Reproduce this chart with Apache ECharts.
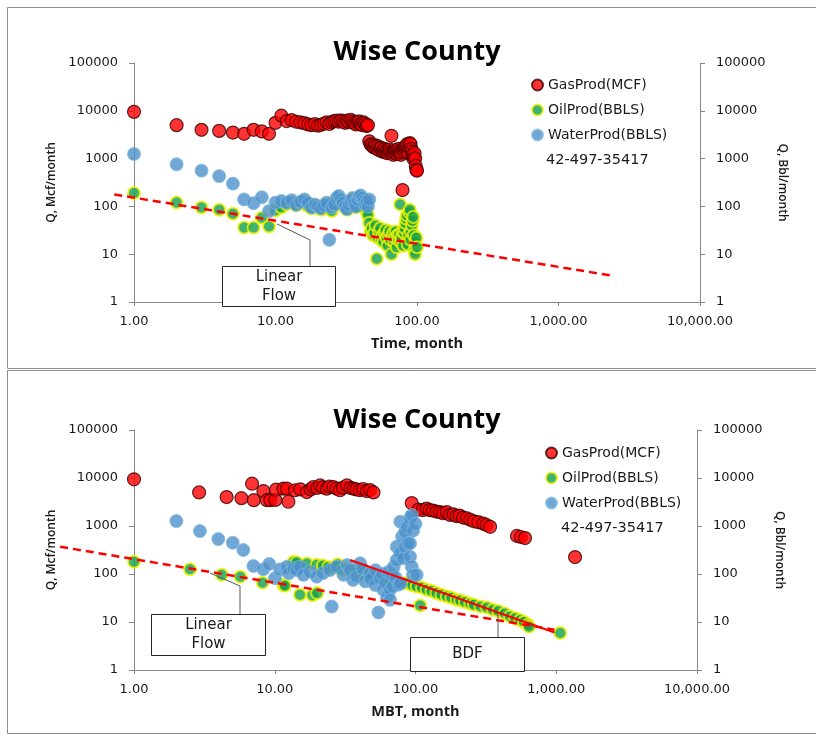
<!DOCTYPE html>
<html>
<head>
<meta charset="utf-8">
<script src="https://cdn.jsdelivr.net/npm/echarts@6.0.0/dist/echarts.min.js"></script>
<style>
  html, body { margin: 0; padding: 0; background: #ffffff; }
  #chart { width: 816px; height: 736px; }
</style>
</head>
<body>
<div id="chart"></div>
<script>
// Monthly production against producing time: [month, volume per month]
const gasTime = [
  [1,9500],[2,5000],[3,4000],[4,3800],[5,3500],[6,3300],[7,4000],[8,3700],[9,3300],[10,5600],
  [11,7900],[12,6100],[13,6400],[14,5900],[15,5700],[16,5500],[17,5200],[18,5000],[19,5300],[20,4900],
  [21,5100],[22,5400],[23,5700],[24,5300],[25,5800],[26,6100],[27,6200],[28,5900],[29,6300],[30,6000],
  [31,5600],[32,6200],[33,5800],[34,6500],[35,6000],[36,5500],[37,5200],[38,5800],[39,6000],[40,5400],
  [41,5000],[42,5700],[43,5300],[44,4800],[45,5000],
  [46,2300],[47,2000],[48,1900],[49,1750],[50,1700],[51,1900],[52,1600],[53,1800],[54,1500],[55,1700],
  [56,1650],[57,1400],[58,1500],[59,1600],[60,1350],[61,1500],[62,1300],[63,1450],[64,1550],[65,1400],
  [66,3000],[67,1350],[68,1200],[69,1400],[70,1300],[71,1500],[72,1250],[73,1400],[74,1600],[75,1300],
  [76,1450],[77,1200],[78,1350],[79,220],[80,1500],[81,1700],[82,1400],[83,1600],[84,1800],[85,2000],
  [86,1500],[87,1300],[88,1700],[89,2100],[90,2000],[91,1600],[92,1400],[93,1200],[94,1000],[95,1100],
  [96,1300],[97,1000],[98,700],[99,580],[100,560]
];
const oilTime = [
  [1,190],[2,120],[3,95],[4,85],[5,70],[6,36],[7,36],[8,58],[9,38],[10,82],
  [11,95],[12,110],[13,120],[14,105],[15,115],[16,125],[17,100],[18,90],[19,105],[20,95],
  [21,85],[22,100],[23,110],[24,90],[25,80],[26,100],[27,130],[28,145],[29,125],[30,110],
  [31,95],[32,85],[33,100],[34,120],[35,140],[36,110],[37,95],[38,130],[39,150],[40,155],
  [41,140],[42,120],[43,100],[44,80],[45,65],
  [46,45],[47,30],[48,35],[49,25],[50,28],[51,40],[52,8],[53,22],[54,30],[55,35],
  [56,20],[57,25],[58,18],[59,28],[60,32],[61,22],[62,15],[63,26],[64,30],[65,20],
  [66,10],[67,24],[68,28],[69,18],[70,22],[71,30],[72,14],[73,25],[74,20],[75,26],
  [76,110],[77,18],[78,22],[79,30],[80,15],[81,28],[82,35],[83,45],[84,55],[85,65],
  [86,16],[87,25],[88,75],[89,85],[90,20],[91,30],[92,40],[93,50],[94,60],[95,25],
  [96,12],[97,10],[98,18],[99,22],[100,14]
];
const waterTime = [
  [1,1250],[2,760],[3,560],[4,430],[5,300],[6,140],[7,117],[8,155],[9,80],[10,120],
  [11,130],[12,120],[13,135],[14,108],[15,125],[16,140],[17,118],[18,95],[19,110],[20,100],
  [21,92],[22,105],[23,120],[24,20],[25,95],[26,110],[27,150],[28,165],[29,140],[30,120],
  [31,100],[32,88],[33,108],[34,128],[35,150],[36,118],[37,100],[38,138],[39,160],[40,170],
  [41,150],[42,130],[43,110],[44,125],[45,100],[46,140]
];

// Monthly production against material balance time: [MBT month, volume per month]
const gasMbt = [
  [1,9400],[2.9,5000],[4.55,4000],[5.8,3800],[6.9,7600],[7.1,3450],[8.3,5350],[8.8,3450],[9.3,3450],[10.1,3500],
  [10.2,5700],[11.5,6000],[12.2,6000],[12.5,3200],[13.9,5550],[15.2,5800],[16.9,5100],[18,5800],[18.8,6500],[20,6200],
  [21,7000],[22,6400],[23.4,6000],[24.5,6600],[26.1,6500],[27.5,6000],[29.1,5550],[30.5,6300],[32.6,7000],[34.5,6200],
  [36.3,6000],[38,5800],[40.4,5550],[42.5,5900],[45.1,5350],[47.5,5600],[50.3,5000],
  [94,3000],[105,2200],[113,2150],[120,2300],[126,2150],[133,2100],[141,2000],[149,1950],[157,1850],[167,1950],
  [176,1700],[186,1750],[196,1600],[206,1650],[218,1500],[232,1450],[245,1350],[260,1250],[280,1200],[303,1120],
  [320,1050],[339,960],[526,620],[560,590],[600,560],[1360,225]
];
const oilMbt = [
  [1,180],[2.5,126],[4.2,96],[5.7,88],[8.2,66],[11.5,59],[11.8,57],[13.6,180],[14.3,175],[15.1,37],
  [16.9,165],[18.5,36],[19.9,155],[20,40],[22,150],[24,140],[26,135],[28,160],[30,120],[33,130],
  [36,115],[38,120],[42,110],[46,95],[50,100],[55,85],[60,80],[66,75],[72,70],[80,66],
  [87,64],[95,58],[102,55],[108,22],[111,52],[120,47],[130,44],[141,40],[153,37],[167,34],
  [180,32],[196,29],[208,28],[225,26],[245,24],[260,23],[290,21],[322,20],[355,18],[388,17],
  [430,15],[470,13],[510,12],[555,11],[590,10],[630,8.8],[640,8],[1067,5.9]
];
const waterMbt = [
  [2.0,1265],[2.94,783],[3.97,535],[5.03,448],[5.98,316],[7.05,147],[8.3,126],[9.14,162],[10.05,82],[10.9,125],
  [12.2,142],[12.6,104],[13.6,131],[14.3,121],[15.1,142],[16,96],[17.8,112],[19.9,88],[22,104],[24.7,121],
  [25.4,21],[27.6,142],[30.8,96],[32.6,154],[34.3,121],[36,75],[38.2,88],[40.4,167],[42,130],[44,70],
  [47.6,104],[48,80],[51.7,59],[52,120],[54.5,15.8],[56,82],[58,100],[59,47],[61,65],[62.6,34],
  [64,110],[66,47],[66,29],[67.6,96],[69,55],[70,140],[72,85],[73.5,196],[73.5,370],[76,60],
  [78,270],[78,1230],[78,64],[80.3,600],[82,213],[84.3,370],[84.3,760],[87,960],[88,440],[91.5,230],
  [91.5,435],[91.5,1440],[94,142],[94,1680],[96,96],[96,800],[100,1100],[102,96]
];

// Flow-regime reference lines: [x, rate] end points
const linearTrendTime = [[0.655,178],[2300,3.6]];
const linearTrendMbt = [[0.27,370],[950,6.9]];
const bdfTrendMbt = [[32.5,196],[950,6.05]];

const seriesNames = ['GasProd(MCF)', 'OilProd(BBLS)', 'WaterProd(BBLS)'];
const wellId = '42-497-35417';
const chartTitle = 'Wise County';

const tickFont = 'DejaVu Sans';
const axisGrey = '#868686';

// Plot frames: the visible axes run 1..10000; the reference lines use a twin
// axis one decade wider so they can start left of the y axis.
const plots = [
  { left: 134, top: 63, width: 566, height: 239 },
  { left: 134, top: 430, width: 563, height: 240 }
];

function fmtX(v) {
  return Number(v).toLocaleString('en-US', { minimumFractionDigits: 2, maximumFractionDigits: 2 });
}
function fmtY(v) { return String(Math.round(v)); }

function xAxisFor(grid, name) {
  return {
    type: 'log', logBase: 10, min: 1, max: 10000, gridIndex: grid,
    name: name, nameLocation: 'middle', nameGap: 34,
    nameTextStyle: { fontFamily: 'Open Sans', fontWeight: 'bold', fontSize: 14.5, color: '#1a1a1a' },
    axisLine: { lineStyle: { color: axisGrey, width: 1 } },
    axisTick: { show: true, length: 4, lineStyle: { color: axisGrey } },
    axisLabel: { formatter: fmtX, margin: 13, fontFamily: tickFont, fontSize: 13, color: '#1a1a1a' },
    splitLine: { show: false }, minorTick: { show: false }
  };
}
function hiddenX(grid) {
  return { type: 'log', logBase: 10, min: 0.1, max: 10000, gridIndex: grid, show: false };
}
function yAxisFor(grid, pos, name) {
  return {
    type: 'log', logBase: 10, min: 1, max: 100000, gridIndex: grid, position: pos,
    name: name, nameLocation: 'middle', nameRotate: pos === 'left' ? 90 : -90,
    nameGap: pos === 'left' ? 64 : 68,
    nameTextStyle: { fontFamily: 'Open Sans', fontWeight: 600, fontSize: 12, color: '#1a1a1a' },
    axisLine: { show: true, lineStyle: { color: axisGrey, width: 1 } },
    axisTick: { show: true, length: 5, lineStyle: { color: axisGrey } },
    axisLabel: { formatter: fmtY, margin: 16, fontFamily: tickFont, fontSize: 13, color: '#1a1a1a' },
    splitLine: { show: false }, minorTick: { show: false }
  };
}
function hiddenY(grid) {
  return { type: 'log', logBase: 10, min: 1, max: 100000, gridIndex: grid, show: false };
}

const gasStyle = { color: '#ff0000', borderColor: '#3c0000', borderWidth: 1.2 };
const oilStyle = { color: '#10a04c', borderColor: '#f2f200', borderWidth: 2 };
const waterStyle = { color: '#4c91ca', borderColor: '#80b8e0', borderWidth: 1 };

// grid 0/1 are the plots, grid 2/3 the wider twins for the reference lines
function scatter(name, data, grid, style, size) {
  return {
    type: 'scatter', name: name, data: data,
    xAxisIndex: grid, yAxisIndex: grid * 2,
    symbol: 'circle', symbolSize: size, itemStyle: style,
    emphasis: { disabled: true }, z: 2
  };
}
function trend(data, grid, dashed) {
  return {
    type: 'line', data: data, xAxisIndex: grid + 2, yAxisIndex: grid + 4,
    symbol: 'none', clip: false, silent: true, z: 5,
    lineStyle: { color: '#ff0000', width: dashed ? 2.5 : 2, type: dashed ? [8, 5] : 'solid' }
  };
}

function legendFor(left, top) {
  return {
    data: seriesNames, orient: 'vertical', left: left, top: top,
    itemWidth: 11, itemHeight: 11, itemGap: 11, icon: 'circle',
    textStyle: { fontFamily: tickFont, fontSize: 14, color: '#1a1a1a' },
    selectedMode: false
  };
}

function callout(box, label, leader) {
  return [
    { type: 'polyline', shape: { points: leader }, style: { stroke: '#595959', lineWidth: 1, fill: null }, z: 100 },
    { type: 'rect', shape: box, style: { fill: '#ffffff', stroke: '#262626', lineWidth: 1 }, z: 101 },
    { type: 'text', x: box.x + box.width / 2, y: box.y + box.height / 2, z: 102,
      style: { text: label, align: 'center', verticalAlign: 'middle', lineHeight: 19,
               font: '15px "DejaVu Sans"', fill: '#1a1a1a' } }
  ];
}

function twin(p) {
  const decade = p.width / 4;
  return { left: p.left - decade, top: p.top, width: p.width + decade, height: p.height };
}

const chart = echarts.init(document.getElementById('chart'), null, { renderer: 'canvas' });

chart.setOption({
  animation: false,
  backgroundColor: '#ffffff',
  grid: [plots[0], plots[1], twin(plots[0]), twin(plots[1])],
  legend: [legendFor(526, 73), legendFor(540, 441)],
  xAxis: [xAxisFor(0, 'Time, month'), xAxisFor(1, 'MBT, month'), hiddenX(2), hiddenX(3)],
  yAxis: [
    yAxisFor(0, 'left', 'Q, Mcf/month'), yAxisFor(0, 'right', 'Q, Bbl/month'),
    yAxisFor(1, 'left', 'Q, Mcf/month'), yAxisFor(1, 'right', 'Q, Bbl/month'),
    hiddenY(2), hiddenY(3)
  ],
  series: [
    scatter(seriesNames[0], gasTime, 0, gasStyle, 13),
    scatter(seriesNames[1], oilTime, 0, oilStyle, 12),
    scatter(seriesNames[2], waterTime, 0, waterStyle, 13),
    trend(linearTrendTime, 0, true),
    scatter(seriesNames[0], gasMbt, 1, gasStyle, 13),
    scatter(seriesNames[1], oilMbt, 1, oilStyle, 12),
    scatter(seriesNames[2], waterMbt, 1, waterStyle, 13),
    trend(linearTrendMbt, 1, true),
    trend(bdfTrendMbt, 1, false)
  ],
  graphic: [
    { type: 'rect', shape: { x: 7.5, y: 7.5, width: 830, height: 361 }, style: { fill: null, stroke: '#8c8c8c', lineWidth: 1 }, z: 0, silent: true },
    { type: 'rect', shape: { x: 7.5, y: 370.5, width: 830, height: 363 }, style: { fill: null, stroke: '#8c8c8c', lineWidth: 1 }, z: 0, silent: true },
    { type: 'text', x: 417, y: 52, style: { text: chartTitle, align: 'center', verticalAlign: 'middle', font: 'bold 27px "Open Sans"', fill: '#000000' } },
    { type: 'text', x: 417, y: 420, style: { text: chartTitle, align: 'center', verticalAlign: 'middle', font: 'bold 27px "Open Sans"', fill: '#000000' } },
    { type: 'text', x: 546, y: 160, style: { text: wellId, verticalAlign: 'middle', font: '14.5px "DejaVu Sans"', fill: '#1a1a1a' } },
    { type: 'text', x: 561, y: 528, style: { text: wellId, verticalAlign: 'middle', font: '14.5px "DejaVu Sans"', fill: '#1a1a1a' } },
    ...callout({ x: 222.5, y: 266.5, width: 113, height: 40 }, 'Linear\nFlow', [[310, 266], [310, 240], [277, 224]]),
    ...callout({ x: 151.5, y: 614.5, width: 114, height: 41 }, 'Linear\nFlow', [[240, 614], [240, 586], [210, 573]]),
    ...callout({ x: 410.5, y: 637.5, width: 114, height: 34 }, 'BDF', [[498, 637], [498, 613]])
  ]
});
</script>
</body>
</html>
